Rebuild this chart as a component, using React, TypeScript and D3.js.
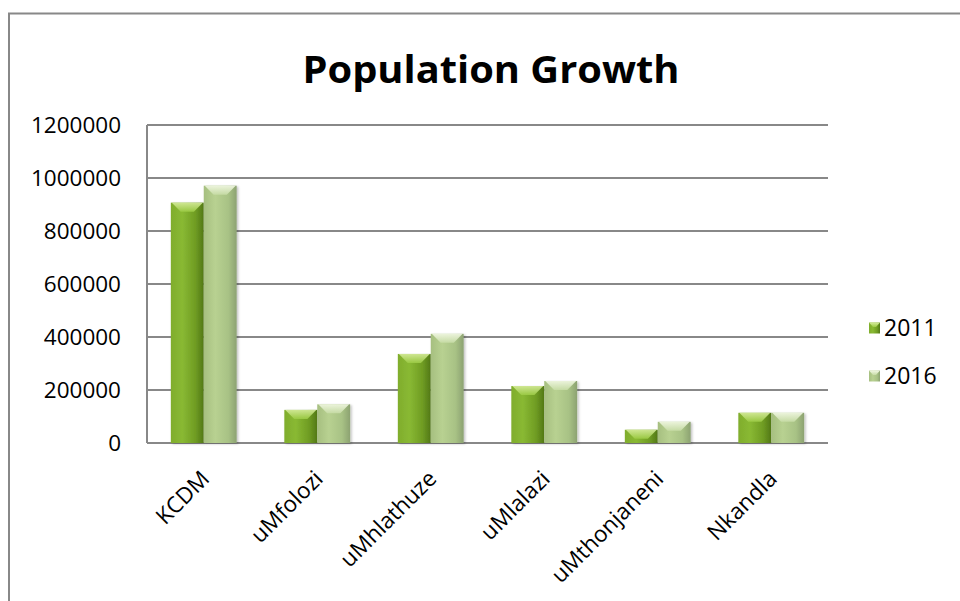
import React from "react";
import * as d3 from "d3";

const categories = ["KCDM", "uMfolozi", "uMhlathuze", "uMlalazi", "uMthonjaneni", "Nkandla"];
const seriesNames = ["2011", "2016"];
const values2011 = [907000, 125000, 336000, 215000, 50000, 114000];
const values2016 = [971000, 146000, 412000, 234000, 80000, 114000];
const yTicks = [0, 200000, 400000, 600000, 800000, 1000000, 1200000];

const W = 960;
const H = 601;
const plot = { left: 147, right: 828, top: 125, bottom: 443 };
const FONT = "'Open Sans', 'Liberation Sans', sans-serif";

export default function App() {
  const x0 = d3.scaleBand<string>().domain(categories).range([plot.left, plot.right]).paddingInner(0.42).paddingOuter(0.21);
  const x1 = d3.scaleBand<string>().domain(seriesNames).range([0, x0.bandwidth()]);
  const y = d3.scaleLinear().domain([0, 1200000]).range([plot.bottom, plot.top]);
  const series = [values2011, values2016];
  const xc = d3.scaleBand<string>().domain(categories).range([plot.left, plot.right]);

  return (
    <svg width={W} height={H} style={{ position: "absolute", left: 0, top: 0, background: "#fff" }}>
      <defs>
        <linearGradient id="g2011" x1="0" x2="1" y1="0" y2="0">
          <stop offset="0" stopColor="#80ad2c" />
          <stop offset="0.35" stopColor="#89b933" />
          <stop offset="0.75" stopColor="#6f9c23" />
          <stop offset="1" stopColor="#527816" />
        </linearGradient>
        <linearGradient id="g2016" x1="0" x2="1" y1="0" y2="0">
          <stop offset="0" stopColor="#a6bf80" />
          <stop offset="0.35" stopColor="#b8d191" />
          <stop offset="0.75" stopColor="#a8c285" />
          <stop offset="1" stopColor="#8ca271" />
        </linearGradient>
        <linearGradient id="cap2011" x1="0" x2="0" y1="0" y2="1">
          <stop offset="0" stopColor="#d7ec9d" />
          <stop offset="1" stopColor="#9ccb45" />
        </linearGradient>
        <linearGradient id="cap2016" x1="0" x2="0" y1="0" y2="1">
          <stop offset="0" stopColor="#f2f8e4" />
          <stop offset="1" stopColor="#c7dca6" />
        </linearGradient>
        <filter id="shadow" x="-20%" y="-5%" width="140%" height="115%">
          <feDropShadow dx="1.5" dy="1" stdDeviation="1.3" floodColor="#000" floodOpacity="0.25" />
        </filter>
      </defs>

      {/* outer frame */}
      <path d={`M9,${H} V13.5 H${W}`} fill="none" stroke="#888" strokeWidth={2} />

      <text x={491} y={83} textAnchor="middle" fontFamily={FONT} fontWeight="bold" fontSize={38} textLength={377} lengthAdjust="spacingAndGlyphs" fill="#000">
        Population Growth
      </text>

      {/* gridlines */}
      {yTicks.map((t) => (
        <line key={t} x1={plot.left} x2={plot.right} y1={y(t)} y2={y(t)} stroke="#888" strokeWidth={2} />
      ))}
      <line x1={plot.left} x2={plot.left} y1={plot.top} y2={plot.bottom} stroke="#888" strokeWidth={2} />

      {yTicks.map((t) => (
        <text key={"l" + t} x={121} y={y(t)} dy="0.36em" textAnchor="end" fontFamily={FONT} fontSize={22.5} fill="#000">
          {t}
        </text>
      ))}

      {/* bars */}
      {categories.map((c, i) => (
        <g key={c} transform={`translate(${x0(c)},0)`}>
          {seriesNames.map((s, j) => {
            const v = series[j][i];
            const bx = x1(s)!;
            const bw = x1.bandwidth();
            const by = y(v);
            const bh = plot.bottom - by;
            const capH = Math.min(9, bh);
            return (
              <g key={s} filter="url(#shadow)">
                <rect x={bx} y={by} width={bw} height={bh} fill={`url(#g${s})`} />
                <path
                  d={`M${bx + 1},${by} L${bx + bw - 1},${by} L${bx + bw * 0.7},${by + capH} L${bx + bw * 0.3},${by + capH} Z`}
                  fill={`url(#cap${s})`}
                  opacity={0.9}
                />
              </g>
            );
          })}
        </g>
      ))}

      {/* category labels */}
      {categories.map((c) => {
        const cx = xc(c)! + xc.bandwidth() / 2;
        return (
          <text key={"c" + c} transform={`translate(${cx - 4},${plot.bottom + 26}) rotate(-45)`} textAnchor="end" dy="0.7em" fontFamily={FONT} fontSize={22.5} fill="#000">
            {c}
          </text>
        );
      })}

      {/* legend */}
      {seriesNames.map((s, j) => {
        const ly = 328 + j * 48;
        return (
          <g key={"lg" + s}>
            <rect x={869} y={ly - 5.5} width={11} height={11} fill={`url(#g${s})`} />
            <path d={`M869,${ly - 5.5} L880,${ly - 5.5} L876,${ly - 1} L873,${ly - 1} Z`} fill={`url(#cap${s})`} />
            <text x={884} y={ly} dy="0.36em" fontFamily={FONT} fontSize={23} fill="#000">
              {s}
            </text>
          </g>
        );
      })}
    </svg>
  );
}
